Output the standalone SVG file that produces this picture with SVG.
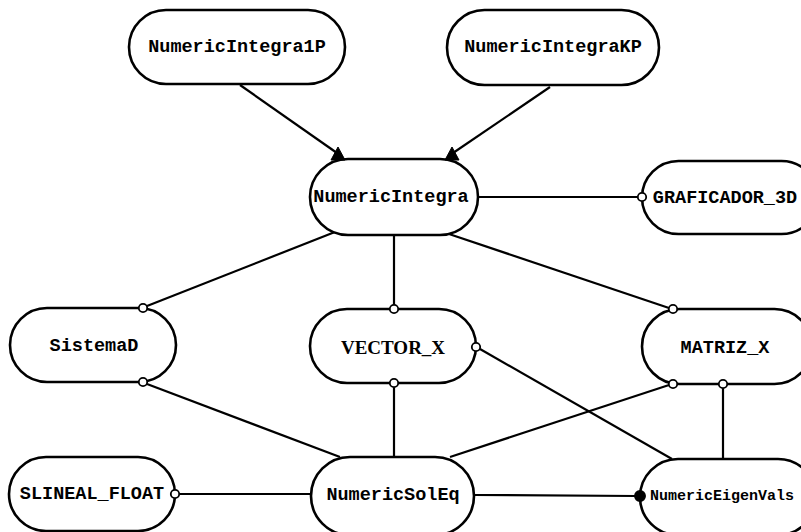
<svg xmlns="http://www.w3.org/2000/svg" width="801" height="532" viewBox="0 0 801 532">
  <style>
    .node { fill: #ffffff; stroke: #000000; stroke-width: 2.6; }
    .lbl { font-family: "Liberation Mono", "Courier New", monospace; font-weight: bold; font-size: 18.5px; fill: #000000; text-anchor: middle; dominant-baseline: central; }
    .lbl-serif { font-family: "Liberation Serif", "Times New Roman", serif; font-weight: bold; font-size: 19px; fill: #000000; text-anchor: middle; dominant-baseline: central; }
    .lbl-small { font-size: 15px; }
    .edge { fill: none; stroke: #000000; stroke-width: 2.2; }
    .port { fill: #ffffff; stroke: #000000; stroke-width: 1.8; }
    .port-filled { fill: #000000; stroke: #000000; stroke-width: 1.5; }
    .head { fill: #000000; stroke: #000000; stroke-width: 1; }
  </style>
  <defs>
    <!-- filled triangular end used on the inheritance edges -->
    <path id="tri" d="M -7 0 L 0 -13 L 7 0 Z"/>
  </defs>
  <rect width="801" height="532" fill="#ffffff"/>

  <!-- connector lines -->
  <g id="connectors">
    <!-- inheritance edges into NumericIntegra -->
    <line class="edge" x1="240" y1="85" x2="337" y2="153"/>
    <line class="edge" x1="550" y1="87" x2="453" y2="153"/>

    <!-- NumericIntegra to GRAFICADOR_3D -->
    <line class="edge" x1="478" y1="197" x2="638" y2="197"/>

    <!-- NumericIntegra to the middle row -->
    <line class="edge" x1="340" y1="230" x2="147" y2="306"/>
    <line class="edge" x1="394" y1="235" x2="394" y2="305"/>
    <line class="edge" x1="449" y1="234" x2="669" y2="308"/>

    <!-- middle row to NumericSolEq -->
    <line class="edge" x1="147" y1="384" x2="340" y2="457"/>
    <line class="edge" x1="394" y1="387" x2="394" y2="457"/>
    <line class="edge" x1="669" y1="385" x2="450" y2="457"/>

    <!-- middle row to NumericEigenVals -->
    <line class="edge" x1="480" y1="349" x2="672" y2="459"/>
    <line class="edge" x1="723" y1="388" x2="723" y2="459"/>

    <!-- bottom row -->
    <line class="edge" x1="179" y1="494" x2="311" y2="494"/>
    <line class="edge" x1="474" y1="495" x2="636" y2="496"/>
  </g>

  <g id="NumericIntegra1P">
    <rect class="node" x="129" y="10" width="216" height="74" rx="37" ry="37"/>
    <text class="lbl" x="237" y="47">NumericIntegra1P</text>
  </g>
  <g id="NumericIntegraKP">
    <rect class="node" x="447" y="10" width="212" height="75" rx="37.5" ry="37.5"/>
    <text class="lbl" x="553" y="47">NumericIntegraKP</text>
  </g>
  <g id="NumericIntegra">
    <rect class="node" x="310" y="159" width="168" height="76" rx="38" ry="38"/>
    <text class="lbl" x="391" y="197">NumericIntegra</text>
  </g>
  <g id="GRAFICADOR_3D">
    <rect class="node" x="642" y="161" width="176" height="73" rx="36.5" ry="36.5"/>
    <text class="lbl" x="725" y="198">GRAFICADOR_3D</text>
  </g>
  <g id="SistemaD">
    <rect class="node" x="10" y="308" width="166" height="74" rx="37" ry="37"/>
    <text class="lbl" x="94" y="346">SistemaD</text>
  </g>
  <g id="VECTOR_X">
    <rect class="node" x="310" y="309" width="166" height="74" rx="37" ry="37"/>
    <text class="lbl-serif" x="393" y="347">VECTOR_X</text>
  </g>
  <g id="MATRIZ_X">
    <rect class="node" x="642" y="309" width="170" height="75" rx="37.5" ry="37.5"/>
    <text class="lbl" x="725" y="348">MATRIZ_X</text>
  </g>
  <g id="SLINEAL_FLOAT">
    <rect class="node" x="9" y="457" width="166" height="74" rx="37" ry="37"/>
    <text class="lbl" x="92" y="494">SLINEAL_FLOAT</text>
  </g>
  <g id="NumericSolEq">
    <rect class="node" x="311" y="457" width="163" height="78" rx="39" ry="39"/>
    <text class="lbl" x="393" y="495">NumericSolEq</text>
  </g>
  <g id="NumericEigenVals">
    <rect class="node" x="640" y="459" width="176" height="76" rx="38" ry="38"/>
    <text class="lbl lbl-small" x="722" y="496">NumericEigenVals</text>
  </g>

  <!-- connector ends, painted over the node outlines -->
  <g id="connector-ends">
    <use href="#tri" class="head" x="338" y="160"/>
    <use href="#tri" class="head" x="452" y="160"/>
    <circle class="port" cx="642" cy="197" r="4.2"/>
    <circle class="port" cx="143" cy="308" r="4.2"/>
    <circle class="port" cx="143" cy="382" r="4.2"/>
    <circle class="port" cx="394" cy="309" r="4.2"/>
    <circle class="port" cx="394" cy="383" r="4.2"/>
    <circle class="port" cx="476" cy="347" r="4.2"/>
    <circle class="port" cx="673" cy="309" r="4.2"/>
    <circle class="port" cx="673" cy="384" r="4.2"/>
    <circle class="port" cx="723" cy="384" r="4.2"/>
    <circle class="port" cx="175" cy="494" r="4.2"/>
    <circle class="port-filled" cx="640" cy="496" r="5.2"/>
  </g>
</svg>
